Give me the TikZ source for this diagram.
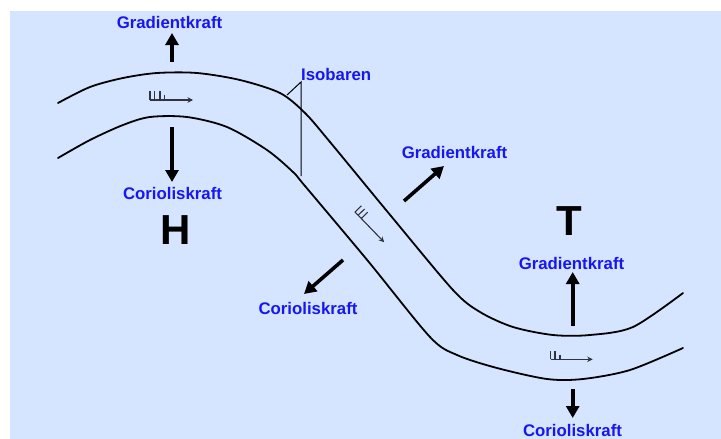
\documentclass[tikz,border=0pt]{standalone}
\usepackage{fontspec}
\setmainfont{Liberation Sans}
\usetikzlibrary{arrows.meta}
\definecolor{bgblue}{RGB}{214,229,255}
\definecolor{lblblue}{RGB}{22,22,245}
\definecolor{flowgray}{RGB}{50,50,62}
\begin{document}
\begin{tikzpicture}[x=1pt,y=-1pt,
  lab/.style={text=lblblue, font=\fontsize{16.8}{18}\selectfont\bfseries, inner sep=0pt},
  big/.style={font=\fontsize{42}{44}\selectfont\bfseries, inner sep=0pt},
  isobar/.style={line width=1.8pt, line join=round, line cap=round},
  force/.style={line width=3.6pt, -{Triangle[width=13pt,length=12pt]}},
  leader/.style={line width=1pt},
  flowline/.style={draw=flowgray, line width=1.1pt},
  flowarrow/.style={draw=flowgray, line width=1.1pt, -{Stealth[length=5.5pt,width=5.5pt]}}]
\fill[white] (0,0) rectangle (721,439);
\fill[bgblue] (10,11) rectangle (721,439);
\useasboundingbox (0,0) rectangle (721,439);

% isobars
\draw[isobar] plot[smooth, tension=0.5] coordinates {(58,103) (90,87) (123,78) (157,73) (197,73) (240,80) (280,93) (305,113) (330,142) (391,216) (453,290) (480,312) (513,327) (553,335) (590,335) (633,327) (683,293)};
\draw[isobar] plot[smooth, tension=0.5] coordinates {(58,158) (90,140) (123,125) (150,117) (187,117) (227,127) (267,150) (293,172) (305,186) (368,261) (430,337) (457,355) (497,368) (547,379) (583,379) (630,370) (683,348)};

% labels
\node[lab] (g1) at (169.5,22) {Gradientkraft};
\node[lab] (c1) at (172.5,193) {Corioliskraft};
\node[big] (h) at (175.5,230) {H};
\node[lab, anchor=south west] (iso) at (301,81) {Isobaren};
\node[lab] (g2) at (454.5,152) {Gradientkraft};
\node[lab] (c2) at (308,308) {Corioliskraft};
\node[big] (t) at (569.5,221.5) {T};
\node[lab] (g3) at (571.5,263) {Gradientkraft};
\node[lab] (c3) at (572.5,430) {Corioliskraft};

% leader lines for Isobaren
\coordinate (apex) at (301,82);
\coordinate (isoA) at (287,95);
\coordinate (isoB) at (301,176);
\draw[leader] (isoA) -- (apex) -- (isoB);

% force arrows
\coordinate (a1s) at (172,62);   \coordinate (a1e) at (172,33);
\coordinate (a2s) at (172,127);  \coordinate (a2e) at (172,182);
\coordinate (a3s) at (404,201);  \coordinate (a3e) at (444,166);
\coordinate (a4s) at (343,260);  \coordinate (a4e) at (304,294);
\coordinate (a5s) at (572.7,326);\coordinate (a5e) at (572.7,272);
\coordinate (a6s) at (572.7,389);\coordinate (a6e) at (572.7,418);
\draw[force] (a1s) -- (a1e);
\draw[force] (a2s) -- (a2e);
\draw[force] (a3s) -- (a3e);
\draw[force] (a4s) -- (a4e);
\draw[force] (a5s) -- (a5e);
\draw[force] (a6s) -- (a6e);

% wind symbols
\begin{scope}[shift={(150,100)}]
  \draw[flowarrow] (0,0) -- (43,0);
  \draw[flowline] (0,0) -- (0,-9) (4.5,0) -- (4.5,-9) (10,0) -- (10,-9) (14.5,0) -- (14.5,-5);
\end{scope}
\begin{scope}[shift={(355,212)}, rotate=-46]
  \draw[flowarrow] (0,0) -- (42,0);
  \draw[flowline] (0,0) -- (0,-9) (4.5,0) -- (4.5,-9) (9,0) -- (9,-9);
\end{scope}
\begin{scope}[shift={(550.7,359.3)}]
  \draw[flowarrow] (0,0) -- (42,0);
  \draw[flowline] (0,0) -- (0,-8) (4.3,0) -- (4.3,-8) (9.3,0) -- (9.3,-4);
\end{scope}
\end{tikzpicture}
\end{document}
